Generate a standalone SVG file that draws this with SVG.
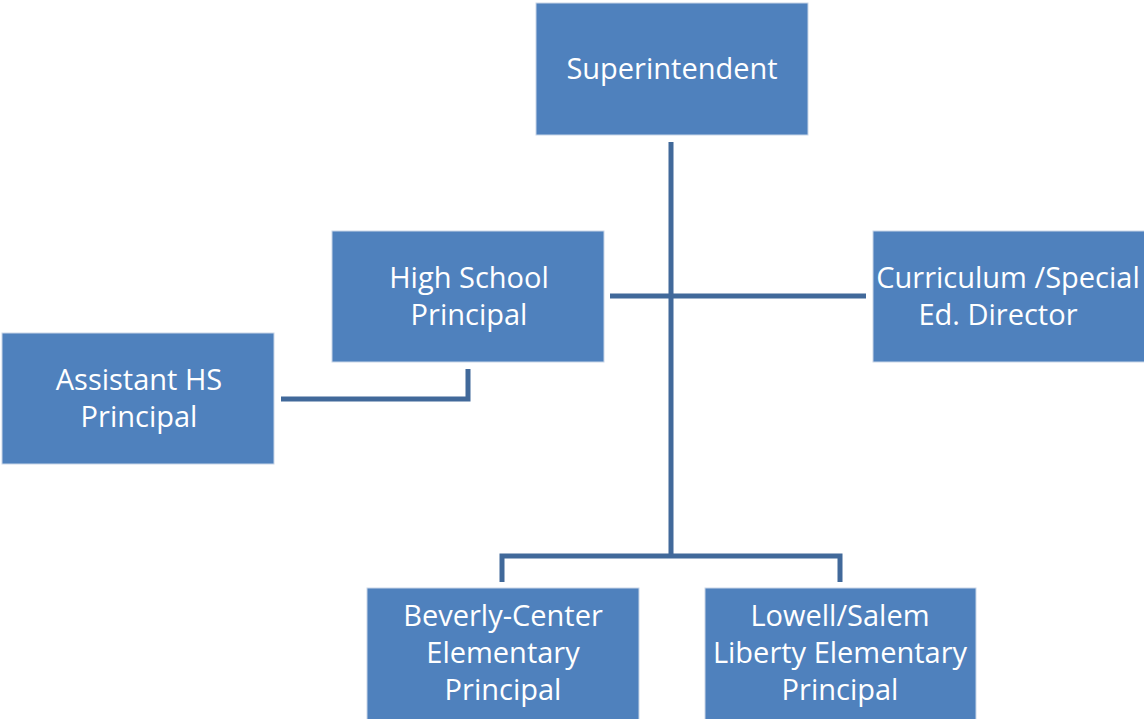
<svg xmlns="http://www.w3.org/2000/svg" width="1144" height="719" viewBox="0 0 1144 719">
  <style>
    .box { fill: #4F81BD; stroke: #C9D6E8; stroke-width: 1; }
    .lbl { fill: #FFFFFF; font-family: "Open Sans", "Noto Sans", sans-serif; font-size: 29px; text-anchor: middle; }
    .wire { fill: none; stroke: #41699A; stroke-width: 5; stroke-linejoin: miter; }
  </style>
  <rect width="1144" height="719" fill="#FFFFFF"/>

  <g id="connectors">
    <path class="wire" d="M671 142 V556"/>
    <path class="wire" d="M610 296 H866"/>
    <path class="wire" d="M468 369 V399 H281"/>
    <path class="wire" d="M502 582 V556 H840 V582"/>
  </g>

  <g id="superintendent">
    <rect class="box" x="536" y="3" width="272" height="132"/>
    <text class="lbl" x="672" y="79">Superintendent</text>
  </g>

  <g id="hs-principal">
    <rect class="box" x="332" y="231" width="272" height="131"/>
    <text class="lbl" x="469" y="288">High School</text>
    <text class="lbl" x="469" y="325">Principal</text>
  </g>

  <g id="curriculum-director">
    <rect class="box" x="873" y="231" width="275" height="131"/>
    <text class="lbl" x="1008" y="288">Curriculum /Special</text>
    <text class="lbl" x="998" y="325">Ed. Director</text>
  </g>

  <g id="assistant-hs-principal">
    <rect class="box" x="2" y="333" width="272" height="131"/>
    <text class="lbl" x="139" y="390">Assistant HS</text>
    <text class="lbl" x="139" y="427">Principal</text>
  </g>

  <g id="beverly-center">
    <rect class="box" x="367" y="588" width="272" height="135"/>
    <text class="lbl" x="503" y="626">Beverly-Center</text>
    <text class="lbl" x="503" y="663">Elementary</text>
    <text class="lbl" x="503" y="700">Principal</text>
  </g>

  <g id="lowell-salem">
    <rect class="box" x="705" y="588" width="271" height="135"/>
    <text class="lbl" x="840" y="626">Lowell/Salem</text>
    <text class="lbl" x="840" y="663">Liberty Elementary</text>
    <text class="lbl" x="840" y="700">Principal</text>
  </g>
</svg>
